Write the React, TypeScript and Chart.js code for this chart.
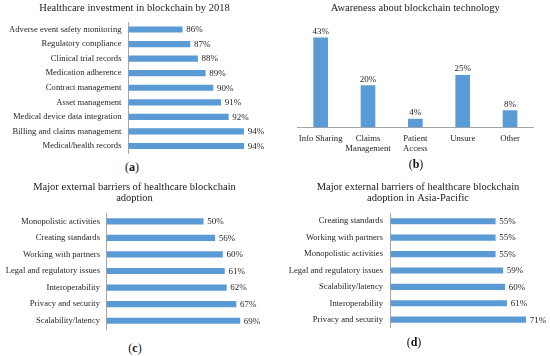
import React, { useEffect, useRef } from "react";
import { Chart, registerables } from "chart.js";

Chart.register(...registerables);

// ---------- data ----------
const investCategories = [
  "Adverse event safety monitoring",
  "Regulatory compliance",
  "Clinical trial records",
  "Medication adherence",
  "Contract management",
  "Asset management",
  "Medical device data integration",
  "Billing and claims management",
  "Medical/health records",
];
const investValues = [86, 87, 88, 89, 90, 91, 92, 94, 94];

const awarenessCategories = [
  ["Info Sharing"],
  ["Claims", "Management"],
  ["Patient", "Access"],
  ["Unsure"],
  ["Other"],
];
const awarenessValues = [43, 20, 4, 25, 8];

const barrierCategories = [
  "Monopolistic activities",
  "Creating standards",
  "Working with partners",
  "Legal and regulatory issues",
  "Interoperability",
  "Privacy and security",
  "Scalability/latency",
];
const barrierValues = [50, 56, 60, 61, 62, 67, 69];

const apacCategories = [
  "Creating standards",
  "Working with partners",
  "Monopolistic activities",
  "Legal and regulatory issues",
  "Scalability/latency",
  "Interoperability",
  "Privacy and security",
];
const apacValues = [55, 55, 55, 59, 60, 61, 71];

const titleA = "Healthcare investment in blockchain by 2018";
const titleB = "Awareness about blockchain technology";
const titleC = ["Major external barriers of healthcare blockchain", "adoption"];
const titleD = ["Major external barriers of healthcare blockchain", "adoption in Asia-Pacific"];

// ---------- styles ----------
const FONT = "'Liberation Serif', 'Times New Roman', serif";
const BAR = "#5B9BD5";
const AXIS = "#A6A6A6";
const TEXT = "#262626";
const TITLE = "#1a1a1a";

const valueLabels = {
  id: "valueLabels",
  afterDatasetsDraw(chart: any) {
    const ctx = chart.ctx;
    const horizontal = chart.options.indexAxis === "y";
    const meta = chart.getDatasetMeta(0);
    const data = chart.data.datasets[0].data;
    ctx.save();
    ctx.fillStyle = TEXT;
    ctx.font = `9px ${FONT}`;
    meta.data.forEach((el: any, i: number) => {
      const t = data[i] + "%";
      if (horizontal) {
        ctx.textAlign = "left";
        ctx.textBaseline = "middle";
        ctx.fillText(t, el.x + 4, el.y + 0.5);
      } else {
        ctx.textAlign = "center";
        ctx.textBaseline = "bottom";
        ctx.fillText(t, el.x, el.y - 2);
      }
    });
    ctx.restore();
  },
};

type HOpts = {
  labels: string[];
  values: number[];
  title: string | string[];
  titleLH: number;
  titlePadTop: number;
  titlePadBottom: number;
  padLeft: number;
  padRight: number;
  padBottom: number;
  axisWidth: number;
  labelPad: number;
  min: number;
  max: number;
  thickness: number;
};

function hbarConfig(o: HOpts): any {
  return {
    type: "bar",
    data: {
      labels: o.labels,
      datasets: [
        {
          data: o.values,
          backgroundColor: BAR,
          barThickness: o.thickness,
        },
      ],
    },
    options: {
      indexAxis: "y",
      animation: false,
      responsive: false,
      devicePixelRatio: 1,
      layout: { padding: { left: o.padLeft, right: o.padRight, top: 0, bottom: o.padBottom } },
      plugins: {
        legend: { display: false },
        tooltip: { enabled: false },
        title: {
          display: true,
          text: o.title,
          color: TITLE,
          font: { family: FONT, size: 10.5, weight: "normal", lineHeight: o.titleLH },
          padding: { top: o.titlePadTop, bottom: o.titlePadBottom },
        },
      },
      scales: {
        x: { display: false, min: o.min, max: o.max },
        y: {
          grid: { display: false, drawTicks: false },
          border: { display: true, color: AXIS, width: 1 },
          ticks: { color: TEXT, font: { family: FONT, size: 8.6 }, padding: o.labelPad },
          afterFit(s: any) {
            s.width = o.axisWidth;
            s.paddingTop = 0;
            s.paddingBottom = 0;
          },
        },
      },
    },
    plugins: [valueLabels],
  };
}

function vbarConfig(): any {
  return {
    type: "bar",
    data: {
      labels: awarenessCategories,
      datasets: [{ data: awarenessValues, backgroundColor: BAR, barThickness: 14 }],
    },
    options: {
      animation: false,
      responsive: false,
      devicePixelRatio: 1,
      layout: { padding: { left: 22, right: 16.3, top: 0, bottom: 2.7 } },
      plugins: {
        legend: { display: false },
        tooltip: { enabled: false },
        title: {
          display: true,
          text: titleB,
          color: TITLE,
          font: { family: FONT, size: 10.5, weight: "normal", lineHeight: 1.2 },
          padding: { top: 1.7, bottom: 9 },
        },
      },
      scales: {
        y: { display: false, min: 0, max: 50 },
        x: {
          grid: { display: false, drawTicks: false },
          border: { display: true, color: AXIS, width: 1 },
          ticks: {
            color: TEXT,
            font: { family: FONT, size: 8.7, lineHeight: 1.15 },
            padding: 6.5,
            maxRotation: 0,
            autoSkip: false,
          },
          afterFit(s: any) {
            s.height = 30;
            s.paddingLeft = 0;
            s.paddingRight = 0;
          },
        },
      },
    },
    plugins: [valueLabels],
  };
}

function Panel(props: { left: number; top: number; width: number; height: number; make: () => any }) {
  const ref = useRef<HTMLCanvasElement | null>(null);
  useEffect(() => {
    if (!ref.current) return;
    const chart = new Chart(ref.current, props.make());
    return () => chart.destroy();
  }, []);
  return (
    <canvas
      ref={ref}
      width={props.width}
      height={props.height}
      style={{ position: "absolute", left: props.left, top: props.top, width: props.width, height: props.height }}
    />
  );
}

function Caption(props: { x: number; y: number; letter: string }) {
  return (
    <div
      style={{
        position: "absolute",
        left: props.x,
        top: props.y,
        transform: "translate(-50%, -50%)",
        fontFamily: FONT,
        fontSize: 12,
        color: "#111",
        lineHeight: 1,
        whiteSpace: "nowrap",
      }}
    >
      (<b>{props.letter}</b>)
    </div>
  );
}

export default function App() {
  return (
    <div
      style={{
        position: "absolute",
        left: 0,
        top: 0,
        width: 550,
        height: 356,
        background: "#fff",
        overflow: "hidden",
      }}
    >
      <Panel
        left={0}
        top={0}
        width={275}
        height={156}
        make={() =>
          hbarConfig({
            labels: investCategories,
            values: investValues,
            title: titleA,
            titleLH: 1.2,
            titlePadTop: 1.7,
            titlePadBottom: 7.9,
            padLeft: 0,
            padRight: 6,
            padBottom: 2.7,
            axisWidth: 128.5,
            labelPad: 7,
            min: 79,
            max: 97.3,
            thickness: 5.5,
          })
        }
      />
      <Panel left={275} top={0} width={275} height={160} make={vbarConfig} />
      <Panel
        left={0}
        top={178}
        width={275}
        height={155}
        make={() =>
          hbarConfig({
            labels: barrierCategories,
            values: barrierValues,
            title: titleC,
            titleLH: 1.12,
            titlePadTop: 3,
            titlePadBottom: 8.5,
            padLeft: 0,
            padRight: 6,
            padBottom: 4,
            axisWidth: 106.7,
            labelPad: 6.7,
            min: 0,
            max: 84.1,
            thickness: 5.5,
          })
        }
      />
      <Panel
        left={275}
        top={178}
        width={275}
        height={155}
        make={() =>
          hbarConfig({
            labels: apacCategories,
            values: apacValues,
            title: titleD,
            titleLH: 1.12,
            titlePadTop: 3,
            titlePadBottom: 8.5,
            padLeft: 11,
            padRight: 0,
            padBottom: 5.1,
            axisWidth: 104.7,
            labelPad: 7.7,
            min: 0,
            max: 83.8,
            thickness: 5.5,
          })
        }
      />
      <Caption x={132} y={167} letter="a" />
      <Caption x={416} y={164} letter="b" />
      <Caption x={135} y={348} letter="c" />
      <Caption x={414} y={342} letter="d" />
    </div>
  );
}
